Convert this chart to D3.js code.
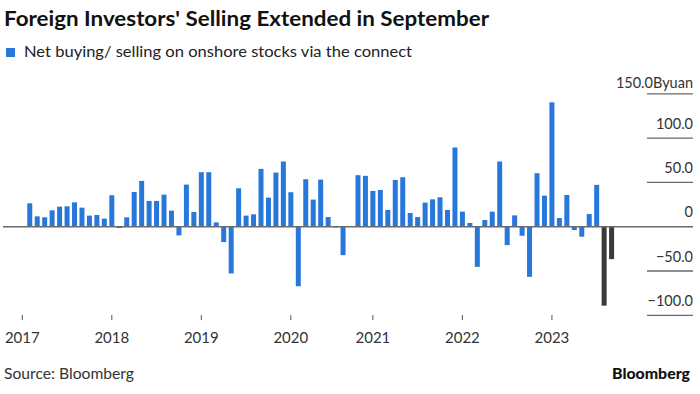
<!DOCTYPE html>
<html>
<head>
    <meta charset="utf-8">
    <style>
        body {
            margin: 0;
            background: #fff;
        }

        svg {
            display: block;
            font-family: Lato, 'Open Sans', sans-serif;
        }

        .y-label {
            font-size: 14.5px;
            fill: #333;
        }

        .x-label {
            font-size: 15px;
            fill: #333;
        }
    </style>
</head>

<body>
    <svg width="700" height="394"></svg>
</body>

<script src="https://d3js.org/d3.v7.min.js"></script>

<script>
    // net buying / selling, billion yuan, one value per bar slot (slot 0 is empty)
    let netFlows = [
        0, 26.4, 11.7, 10.6, 18.5, 22.6, 23.0, 27.5, 21.5, 12.5, 13.2, 9.1,
        35.5, -1.5, 10.6, 39.2, 51.7, 29.1, 29.1, 36.2, 18.1, -9.8, 47.5, 16.6,
        61.5, 61.5, 4.9, -17.4, -52.8, 43.4, 12.5, 14.0, 65.3, 32.8, 61.1, 73.6,
        38.9, -67.2, 53.6, 30.6, 53.2, 10.9, -0.8, -32.1, 0, 58.1, 57.4,
        40.4, 41.5, 18.9, 52.8, 55.8, 15.5, 10.9, 27.2, 30.9, 33.2, 18.9, 89.4,
        17.0, 4.2, -45.3, 7.5, 17.0, 73.6, -20.8, 12.8, -10.2, -56.6, 60.4, 35.1,
        140.4, 9.8, 35.8, -3.8, -11.3, 14.3, 47.2, -89.1, -36.6
    ]

    // the latest months are drawn in dark grey
    let latestCount = 2

    let yearLabels = ["2017", "2018", "2019", "2020", "2021", "2022", "2023"]
    let yearSlots = [0, 12, 24, 36, 47, 59, 71]

    let yTicks = [150, 100, 50, 0, -50, -100]

    let blue = "#2878dc"
    let dark = "#3b3b3b"

    let svg = d3.select("svg")

    let x = d3.scaleLinear()
        .domain([0, netFlows.length - 1])
        .range([22.3, 611.6])

    let y = d3.scaleLinear()
        .domain([-100, 150])
        .range([315.3, 93.8])

    let barWidth = 5

    // title + legend
    svg.append("text")
        .attr("x", 4)
        .attr("y", 26)
        .attr("textLength", 485)
        .attr("lengthAdjust", "spacingAndGlyphs")
        .style("font-size", "21px")
        .style("font-weight", "bold")
        .style("fill", "#111")
        .text("Foreign Investors' Selling Extended in September")

    svg.append("rect")
        .attr("x", 6)
        .attr("y", 48)
        .attr("width", 9)
        .attr("height", 9)
        .style("fill", blue)

    svg.append("text")
        .attr("x", 24)
        .attr("y", 57.3)
        .attr("textLength", 388)
        .attr("lengthAdjust", "spacingAndGlyphs")
        .style("font-size", "15px")
        .style("fill", "#222")
        .text("Net buying/ selling on onshore stocks via the connect")

    // right axis: short lines under each label
    let yAxis = svg.append("g")

    yAxis.selectAll(".grid")
        .data(yTicks.filter(d => d != 0))
        .join("line")
        .attr("x1", 647)
        .attr("x2", 693)
        .attr("y1", d => y(d))
        .attr("y2", d => y(d))
        .style("stroke", "#6a6a6a")
        .style("stroke-width", "1.3px")

    yAxis.selectAll(".y-label")
        .data(yTicks)
        .join("text")
        .attr("class", "y-label")
        .attr("x", 693)
        .attr("y", d => y(d) - (d == 150 ? 5.5 : 9.5))
        .attr("text-anchor", "end")
        .text(d => {
            let s = d == 0 ? "0" : d3.format(".1f")(d)
            return d == 150 ? s + "Byuan" : s
        })

    // bars
    svg.append("g")
        .selectAll("rect")
        .data(netFlows)
        .join("rect")
        .attr("x", (d, i) => x(i) - barWidth / 2)
        .attr("y", d => y(Math.max(0, d)))
        .attr("width", barWidth)
        .attr("height", d => Math.abs(y(d) - y(0)))
        .style("fill", (d, i) => i >= netFlows.length - latestCount ? dark : blue)

    // zero line across the plot
    svg.append("line")
        .attr("x1", 3)
        .attr("x2", 693)
        .attr("y1", y(0))
        .attr("y2", y(0))
        .style("stroke", "#6a6a6a")
        .style("stroke-width", "1.5px")

    // x axis ticks + years
    let xAxis = svg.append("g")

    xAxis.selectAll("line")
        .data(yearSlots)
        .join("line")
        .attr("x1", d => x(d))
        .attr("x2", d => x(d))
        .attr("y1", 315)
        .attr("y2", 320)
        .style("stroke", "#555")
        .style("stroke-width", "1px")

    xAxis.selectAll("text")
        .data(yearLabels)
        .join("text")
        .attr("class", "x-label")
        .attr("x", (d, i) => x(yearSlots[i]))
        .attr("y", 342.5)
        .attr("text-anchor", "middle")
        .text(d => d)

    // footer
    svg.append("text")
        .attr("x", 4)
        .attr("y", 379)
        .attr("textLength", 130)
        .attr("lengthAdjust", "spacingAndGlyphs")
        .style("font-size", "15px")
        .style("fill", "#333")
        .text("Source: Bloomberg")

    svg.append("text")
        .attr("x", 612)
        .attr("y", 379)
        .attr("textLength", 78)
        .attr("lengthAdjust", "spacingAndGlyphs")
        .style("font-size", "15.5px")
        .style("font-weight", "900")
        .style("fill", "#111")
        .text("Bloomberg")
</script>
</html>
